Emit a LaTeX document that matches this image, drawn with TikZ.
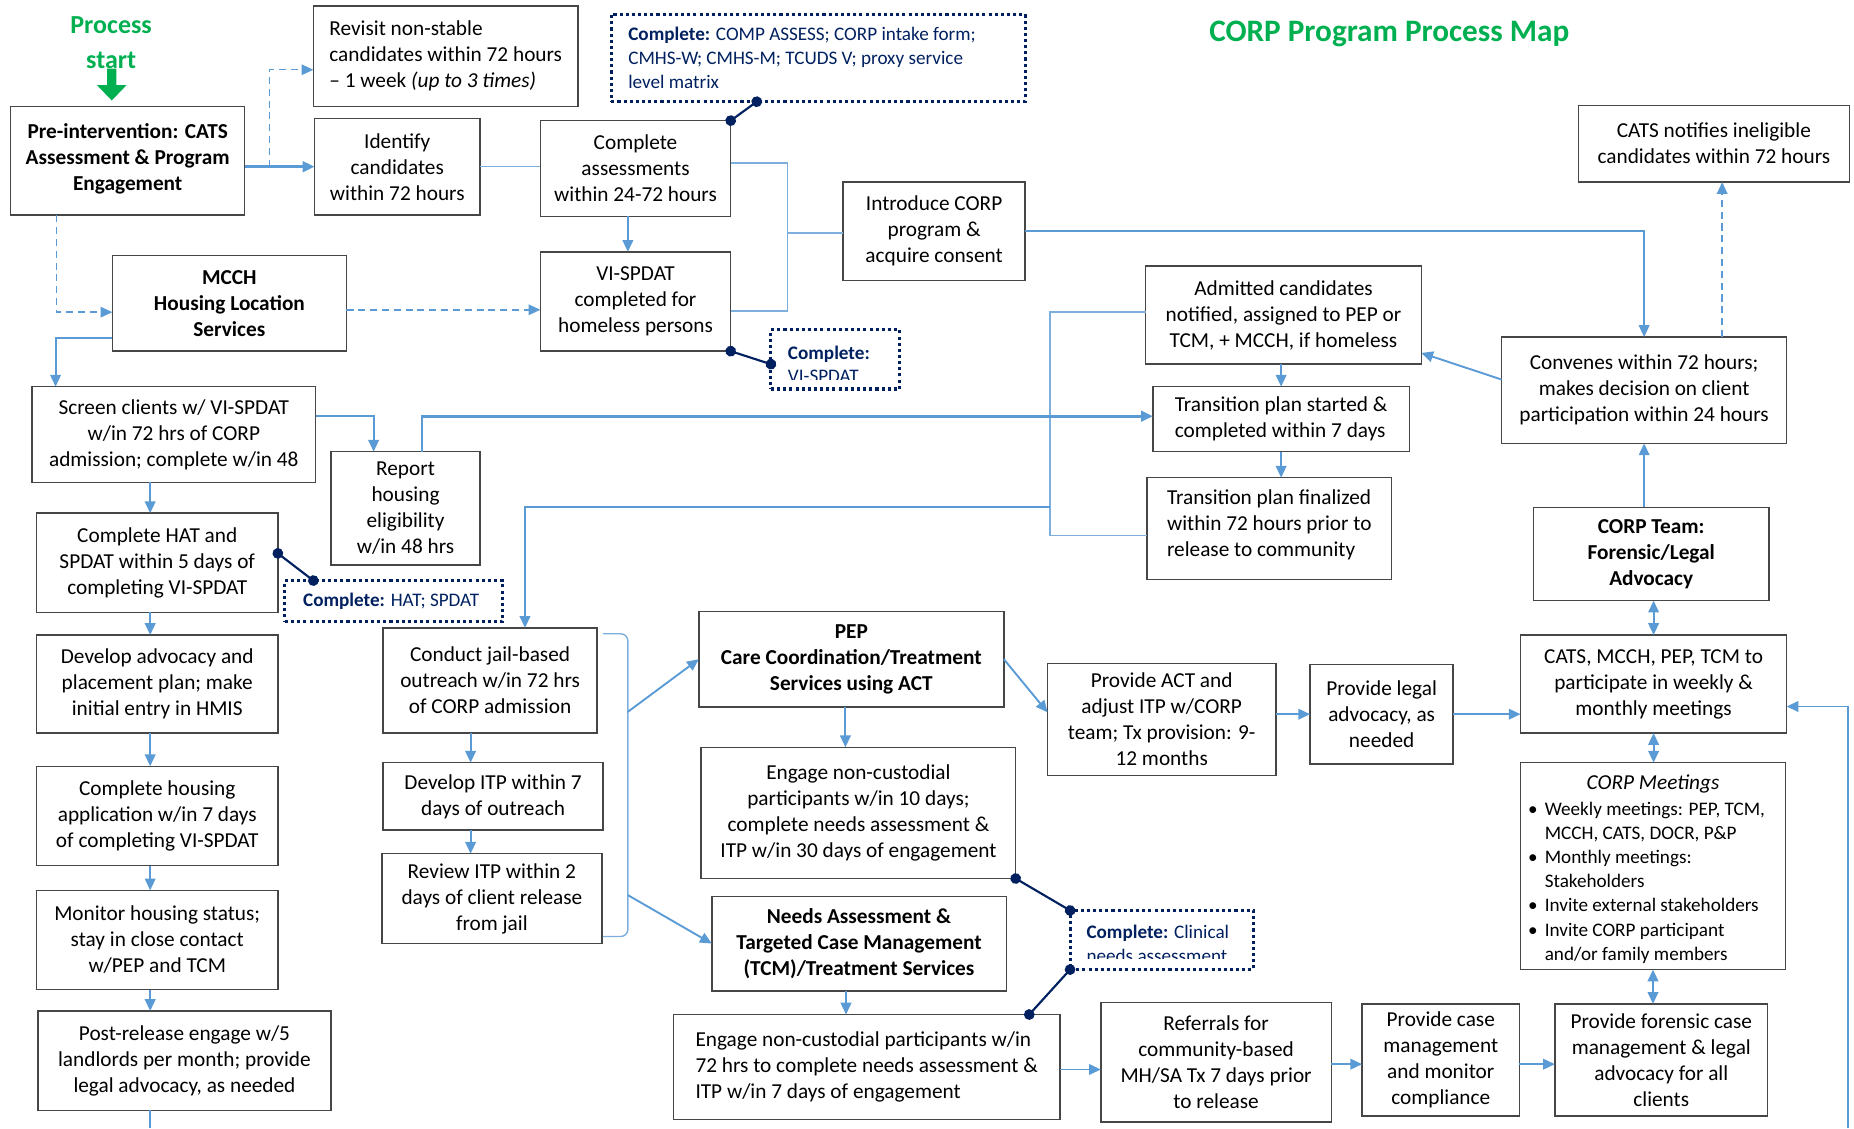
\documentclass[tikz,border=0pt]{standalone}
\usepackage{fontspec}
\setmainfont{Carlito}
\usetikzlibrary{arrows.meta,calc}
\definecolor{flowblue}{RGB}{91,155,213}
\definecolor{navyblue}{RGB}{0,32,96}
\definecolor{startgreen}{RGB}{0,176,80}
\definecolor{boxgray}{RGB}{70,70,70}

\begin{document}
\begin{tikzpicture}[x=0.5pt, y=-0.5pt,
	sz/.style 2 args={minimum width=#1*0.5pt, minimum height=#2*0.5pt},
	box/.style={draw=boxgray, line width=0.6pt, inner sep=0pt, outer sep=0pt, align=center, font=\fontsize{9}{11}\selectfont},
	boldbox/.style={box, font=\fontsize{9}{11}\selectfont\bfseries},
	dotbox/.style={draw=navyblue, line width=1.3pt, dash pattern=on 1.3pt off 1.3pt, inner sep=0pt, outer sep=0pt},
	dottxt/.style={inner sep=0pt, align=left, text=navyblue, font=\fontsize{8.1}{10}\selectfont},
	flow/.style={draw=flowblue, line width=0.8pt, -{Triangle[length=5pt,width=4.5pt]}},
	dflow/.style={flow, line width=0.6pt, dash pattern=on 3pt off 2pt},
	dbl/.style={flow, {Triangle[length=5pt,width=4.5pt]}-{Triangle[length=5pt,width=4.5pt]}},
	ln/.style={draw=flowblue!80, line width=0.6pt},
	dotlink/.style={draw=navyblue, line width=0.9pt, {Circle[length=4.5pt]}-{Circle[length=4.5pt]}, shorten <=-2.25pt, shorten >=-2.25pt}]
	\useasboundingbox (0,0) rectangle (1568,954);

	% title and start marker
	\node[font=\fontsize{13.2}{16}\selectfont\bfseries, text=startgreen] (title) at (1175,29) {CORP Program Process Map};
	\node[font=\fontsize{11}{15}\selectfont\bfseries, text=startgreen, align=center] (start) at (94,36) {Process\\start};
	\fill[startgreen] (90.5,58) -- (98.5,58) -- (98.5,72) -- (107,72) -- (94.5,85) -- (82,72) -- (90.5,72) -- cycle;

	% pre-intervention stage
	\node[boldbox, sz={198}{92}] (pre) at (108,136) {Pre-intervention: CATS\\Assessment \& Program\\Engagement\\[-8pt]};
	\node[box, sz={224}{85}, align=left] (revisit) at (377,47.5) {Revisit non-stable\\candidates within 72 hours\\– 1 week \textit{(up to 3 times)}};
	\node[box, sz={140}{82}] (ident) at (336,141) {Identify\\candidates\\within 72 hours};
	\node[box, sz={161}{81}] (comp) at (537.5,142.5) {Complete\\assessments\\within 24-72 hours};
	\node[box, sz={161}{84}] (vi) at (537.5,255) {VI-SPDAT\\completed for\\homeless persons};
	\node[box, sz={154}{83}] (intro) at (790,195.5) {Introduce CORP\\program \&\\acquire consent};
	\node[boldbox, sz={198}{81}] (mcch) at (194,256.5) {MCCH\\Housing Location\\Services};
	\node[dotbox, sz={350}{74}] (dcomp) at (692,49) {};
	\node[dottxt, anchor=west] (dcomptxt) at ($(dcomp.west)+(14,0)$) {\textbf{Complete:} COMP ASSESS; CORP intake form;\\CMHS-W; CMHS-M; TCUDS V; proxy service\\level matrix};
	\node[dotbox, sz={109}{50}] (dvi) at (706.5,304) {};
	\begin{scope}
		\clip ($(dvi.south west)+(0,-8)$) rectangle (dvi.north east);
		\node[dottxt, anchor=west] (dvitxt) at ($(dvi.west)+(14,4)$) {\textbf{Complete:}\\VI-SPDAT};
	\end{scope}

	% housing column
	\node[box, sz={240}{81}] (screen) at (147,367.5) {Screen clients w/ VI-SPDAT\\w/in 72 hrs of CORP\\admission; complete w/in 48};
	\node[box, sz={126}{96}] (report) at (343,430) {Report\\housing\\eligibility\\w/in 48 hrs};
	\node[box, sz={204}{84}] (hat) at (133,476) {Complete HAT and\\SPDAT within 5 days of\\completing VI-SPDAT};
	\node[dotbox, sz={184}{35}] (dhat) at (333,508.5) {};
	\node[dottxt, anchor=west] (dhattxt) at ($(dhat.west)+(15,0)$) {\textbf{Complete:} HAT; SPDAT};
	\node[box, sz={204}{83}] (develop) at (133,578.5) {Develop advocacy and\\placement plan; make\\initial entry in HMIS};
	\node[box, sz={204}{84}] (housing) at (133,690) {Complete housing\\application w/in 7 days\\of completing VI-SPDAT};
	\node[box, sz={204}{84}] (monitor) at (133,795) {Monitor housing status;\\stay in close contact\\w/PEP and TCM};
	\node[box, sz={248}{84}] (post) at (156,897) {Post-release engage w/5\\landlords per month; provide\\legal advocacy, as needed};

	% jail outreach column
	\node[box, sz={181}{89}] (conduct) at (414.5,575.5) {Conduct jail-based\\outreach w/in 72 hrs\\of CORP admission};
	\node[box, sz={186}{57}] (devitp) at (417,673.5) {Develop ITP within 7\\days of outreach};
	\node[box, sz={186}{76}] (review) at (416,760) {Review ITP within 2\\days of client release\\from jail};

	% treatment services
	\node[boldbox, sz={258}{81}] (pep) at (720,557.5) {PEP\\Care Coordination/Treatment\\Services using ACT};
	\node[box, sz={266}{111}] (eng10) at (726,687.5) {Engage non-custodial\\participants w/in 10 days;\\complete needs assessment \&\\ITP w/in 30 days of engagement};
	\node[boldbox, sz={249}{80}] (needs) at (726.5,798) {Needs Assessment \&\\Targeted Case Management\\(TCM)/Treatment Services};
	\node[box, sz={327}{89}, align=left] (eng72) at (733,902.5) {Engage non-custodial participants w/in\\72 hrs to complete needs assessment \&\\ITP w/in 7 days of engagement};
	\node[dotbox, sz={155}{50}] (dclin) at (982.5,795) {};
	\begin{scope}
		\clip ($(dclin.south west)+(0,-9)$) rectangle (dclin.north east);
		\node[dottxt, anchor=west] (dclintxt) at ($(dclin.west)+(13.5,3)$) {\textbf{Complete:} Clinical\\needs assessment};
	\end{scope}
	\node[box, sz={193}{95}] (act) at (982.5,608.5) {Provide ACT and\\adjust ITP w/CORP\\team; Tx provision: 9-\\12 months};
	\node[box, sz={121}{84}] (legal) at (1168.5,604) {Provide legal\\advocacy, as\\needed};
	\node[box, sz={195}{101}] (refer) at (1028.5,898.5) {Referrals for\\community-based\\MH/SA Tx 7 days prior\\to release};
	\node[box, sz={133}{95}] (pcase) at (1218.5,896.5) {Provide case\\management\\and monitor\\compliance};

	% transition planning
	\node[box, sz={233}{83}] (admit) at (1085.5,266.5) {Admitted candidates\\notified, assigned to PEP or\\TCM, + MCCH, if homeless};
	\node[box, sz={217}{55}, align=left] (t1) at (1083.5,354.5) {Transition plan started \&\\completed within 7 days};
	\node[box, sz={207}{86}, align=left] (t2) at (1073.5,447) {Transition plan finalized\\within 72 hours prior to\\release to community\\[-6pt]};

	% CORP team column
	\node[box, sz={229}{65}] (catsn) at (1449.5,121.5) {CATS notifies ineligible\\candidates within 72 hours};
	\node[box, sz={241}{90}] (conv) at (1390.5,330) {Convenes within 72 hours;\\makes decision on client\\participation within 24 hours};
	\node[boldbox, sz={199}{79}] (team) at (1396.5,468.5) {CORP Team:\\Forensic/Legal\\Advocacy};
	\node[box, sz={225}{83}] (meet) at (1398.5,578.5) {CATS, MCCH, PEP, TCM to\\participate in weekly \&\\monthly meetings};
	\node[box, sz={224}{175}] (mtg) at (1398,732.5) {};
	\node[font=\fontsize{9}{10.2}\selectfont\itshape, inner sep=0pt] (mtgt) at ($(mtg.north)+(0,18)$) {CORP Meetings};
	\node[font=\fontsize{8.1}{10.2}\selectfont, inner sep=0pt, anchor=north west] (mtgl) at ($(mtg.north west)+(6,30)$) {\begin{tabular}{@{}l@{\hspace{3pt}}l@{}}
		\textbullet & Weekly meetings: PEP, TCM,\\
		& MCCH, CATS, DOCR, P\&P\\
		\textbullet & Monthly meetings:\\
		& Stakeholders\\
		\textbullet & Invite external stakeholders\\
		\textbullet & Invite CORP participant\\
		& and/or family members
	\end{tabular}};
	\node[box, sz={180}{95}] (forensic) at (1405,896.5) {Provide forensic case\\management \& legal\\advocacy for all\\clients};

	% connectors: pre-intervention
	\draw[flow, line width=1.1pt] (pre.east |- ident.west) -- (ident.west);
	\draw[dflow] ($(pre.east |- ident.west)+(21,0)$) |- ($(revisit.west)+(0,11.5)$);
	\draw[dflow] ($(pre.south west)+(39,0)$) |- ($(mcch.west)+(0,7.5)$);
	\draw[dflow] ($(mcch.east)+(0,5.5)$) -- ($(mcch.east -| vi.west)+(0,5.5)$);
	\draw[flow] ($(mcch.west)+(0,29.5)$) -| ($(screen.north west)+(20,0)$);
	\draw[ln] (ident.east) -- (ident.east -| comp.west);
	\draw[flow] ($(comp.south)+(-6.5,0)$) -- ($(vi.north)+(-6.5,0)$);
	\coordinate (cv) at (666,197);
	\draw[ln] ($(comp.east)+(0,-4.5)$) -| (cv) |- ($(vi.east)+(0,8)$);
	\draw[ln] (cv) -- (cv -| intro.west);
	\draw[flow] (intro.east) -| (conv.north);

	% connectors: CORP team
	\draw[dflow] ($(conv.north)+(66,0)$) -- ($(catsn.south)+(7,0)$);
	\draw[flow] ($(conv.west)+(0,-9)$) -- ($(admit.east)+(0,32)$);
	\draw[flow] (team.north -| conv.south) -- (conv.south);
	\draw[dbl] (team.south -| meet.north) -- (meet.north);
	\draw[dbl] (meet.south) -- (meet.south |- mtg.north);
	\draw[dbl] (mtg.south) -- (mtg.south |- forensic.north);
	\coordinate (rb) at (1563,954);
	\draw[flow] (rb) |- ($(meet.east)+(0,19)$);

	% connectors: transition planning
	\draw[flow] (admit.south -| t1.north) -- (t1.north);
	\draw[flow] (t1.south) -- (t1.south |- t2.north);
	\coordinate (jx) at (888,428.5);
	\draw[ln] ($(admit.west)+(0,-2.5)$) -| (jx) |- ($(t2.west)+(0,6)$);
	\draw[flow] (jx) -| ($(conduct.north)+(29.5,0)$);

	% connectors: housing column
	\coordinate (lc) at (127,954);
	\draw[flow] (screen.south -| lc) -- (hat.north -| lc);
	\draw[flow] (hat.south -| lc) -- (develop.north -| lc);
	\draw[flow] (develop.south -| lc) -- (housing.north -| lc);
	\draw[flow] (housing.south -| lc) -- (monitor.north -| lc);
	\draw[flow] (monitor.south -| lc) -- (post.north -| lc);
	\draw[ln, draw=flowblue] (post.south -| lc) -- (lc);
	\draw[flow] ($(screen.east)+(0,-15.5)$) -| ($(report.north)+(-27,0)$);
	\draw[flow, line width=1.1pt] ($(report.north)+(14,0)$) |- ($(t1.west)+(0,-2.5)$);

	% connectors: jail outreach and services
	\draw[flow] ($(conduct.south)+(-16.5,0)$) -- ($(conduct.south |- devitp.north)+(-16.5,0)$);
	\draw[flow] ($(devitp.south)+(-19,0)$) -- ($(devitp.south |- review.north)+(-19,0)$);
	\coordinate (bt) at (531,602);
	\coordinate (bb) at (531,757);
	\draw[ln, rounded corners=3pt] ($(conduct.north east)+(5,5)$) -| ($(review.south east)+(22,-6)$) -- ($(review.south east)+(1,-6)$);
	\draw[flow] (bt) -- (pep.west);
	\draw[flow] (bb) -- (needs.west);
	\draw[flow] (pep.east) -- ($(act.west)+(0,-6)$);
	\draw[flow] ($(pep.south)+(-5,0)$) -- ($(pep.south |- eng10.north)+(-5,0)$);
	\draw[flow] ($(needs.south)+(-11,0)$) -- ($(needs.south |- eng72.north)+(-11,0)$);
	\draw[flow] (act.east |- legal.west) -- (legal.west);
	\draw[flow] (legal.east) -- (legal.east -| meet.west);
	\draw[flow] ($(eng72.east)+(0,2)$) -- ($(eng72.east -| refer.west)+(0,2)$);
	\draw[flow] ($(refer.east)+(0,1.5)$) -- ($(refer.east -| pcase.west)+(0,1.5)$);
	\draw[flow] ($(pcase.east)+(0,3.5)$) -- ($(forensic.west)+(0,3.5)$);

	% links to the forms to complete
	\draw[dotlink] (comp.north east) -- ($(dcomp.south west)+(123,0)$);
	\draw[dotlink] (vi.south east) -- ($(dvi.west)+(0,4)$);
	\draw[dotlink] ($(hat.east)+(0,-8)$) -- ($(dhat.north west)+(24,0)$);
	\draw[dotlink] (eng10.south east) -- (dclin.north west);
	\draw[dotlink] (dclin.south west) -- ($(eng72.north east)+(-26,0)$);
\end{tikzpicture}
\end{document}
